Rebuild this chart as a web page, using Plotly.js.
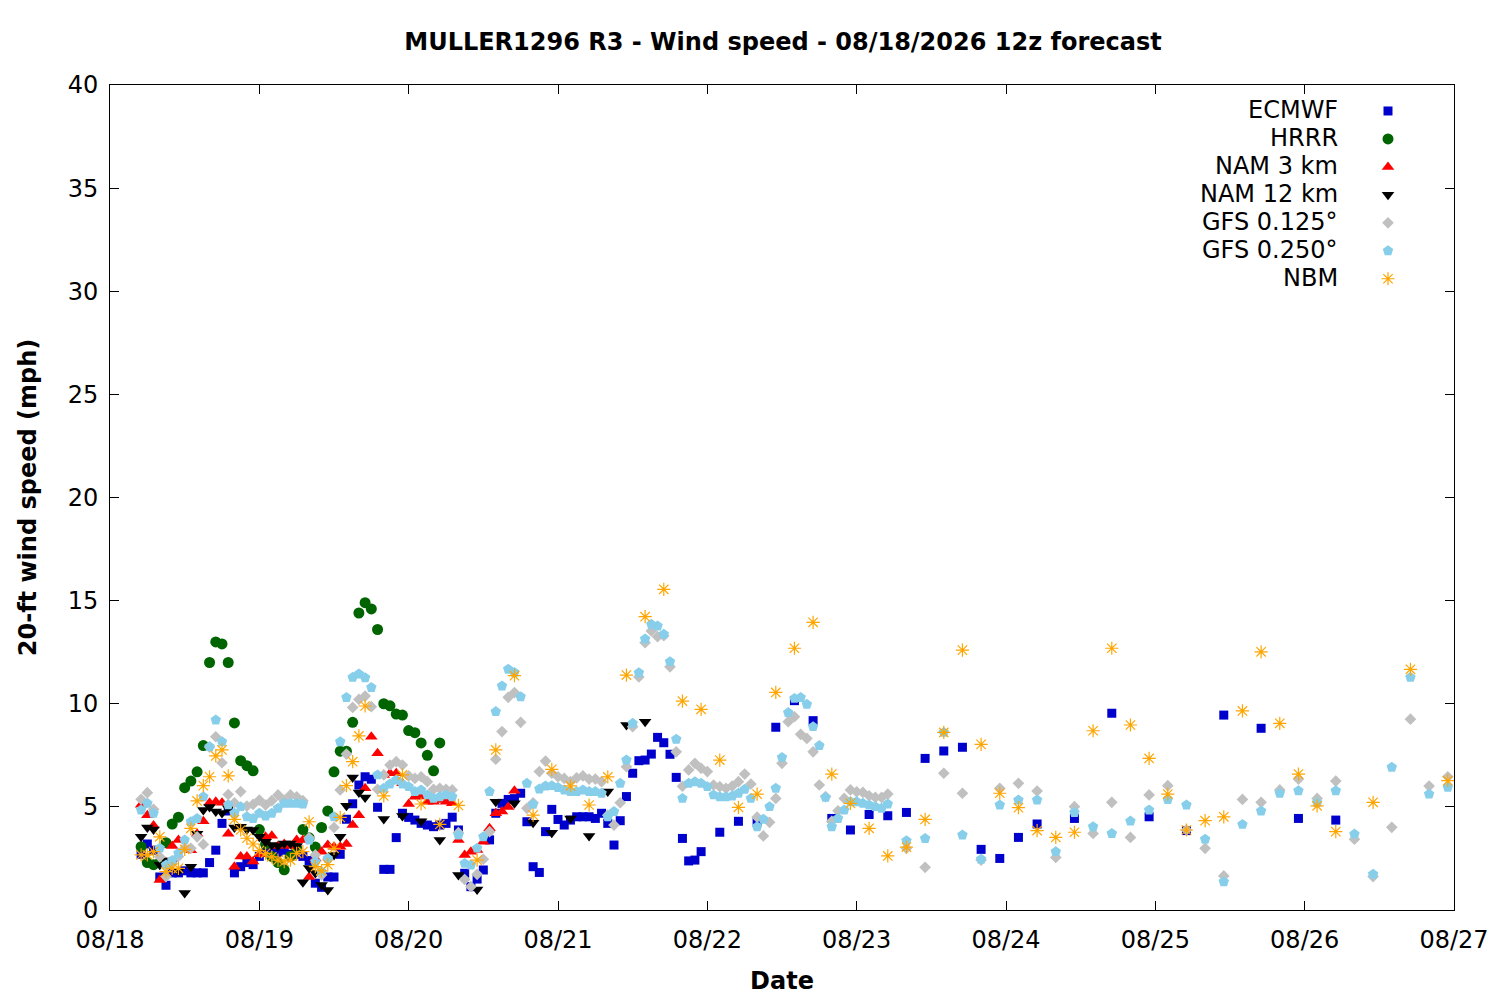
<!DOCTYPE html>
<html>
<head>
<meta charset="utf-8">
<script src="https://cdn.plot.ly/plotly-3.0.1.min.js"></script>
<style>
  body { margin: 0; background: #fff; }
  #plot-graph { width: 1500px; height: 1000px; }
</style>
</head>
<body>
<div id="plot-graph"></div>
<script>
"use strict";

// forecast hours counted from 08/18 00:00 local (run is 12z = 05 local)
var startDay = Date.UTC(2026, 7, 18);

var seriesNames = ["ECMWF", "HRRR", "NAM 3 km", "NAM 12 km", "GFS 0.125°", "GFS 0.250°", "NBM"];

// ECMWF: hourly, then 3-hourly, then 6-hourly
var ecmwfHourly = [
    2.7, 3.2, 2.9, 1.6, 1.2, 1.8, 1.8, 1.9, 1.8, 1.8,
    1.8, 2.3, 2.9, 4.2, 4.8, 1.8, 2.1, 2.3, 2.2, 2.6,
    2.9, 3.0, 2.8, 2.9, 2.7, 2.7, 2.6, 2.4, 1.3, 1.1,
    1.6, 1.6, 2.7, 4.4, 5.15, 6.06, 6.46, 6.34, 4.98, 1.97,
    1.97, 3.51, 4.69, 4.49, 4.36, 4.2, 4.12, 4.04, 4.12, 4.2,
    4.5, 3.88, 1.78, 1.13, 1.5, 1.94, 3.4, 4.69, 5.17, 5.36,
    5.4, 5.66, 4.28, 2.1, 1.82, 3.8, 4.88, 4.39, 4.12, 4.36,
    4.52, 4.52, 4.52, 4.44, 4.69, 4.2, 3.15, 4.33, 5.5, 6.63,
    7.24, 7.27, 7.56, 8.37, 8.11, 7.55, 6.43, 3.47, 2.38, 2.42,
    2.83
];
var ecmwf3h = [3.77, 4.3, 4.25, 8.86, 10.15, 9.18, 4.44, 3.88, 4.63, 4.57, 4.73, 7.35, 7.71, 7.89, 2.94, 2.5, 3.52, 4.17];
var ecmwf6h = [4.44, 9.54, 4.52, 3.85, 9.45, 8.81, 4.44, 4.36];

var hrrr = [
    3.07, 2.3, 2.2, 2.3, 3.26, 4.17, 4.5, 5.93, 6.25, 6.7,
    7.97, 12.0, 13.0, 12.9, 12.0, 9.07, 7.24, 7.0, 6.75,
    3.9, 3.2, 2.6, 2.3, 1.95, 2.6, 3.0, 3.9, 3.5, 3.05,
    4.0, 4.8, 6.7, 7.7, 7.7, 9.1, 14.4, 14.9, 14.6, 13.6,
    10.0, 9.9, 9.5, 9.45, 8.7, 8.6, 8.1, 7.5, 6.75, 8.1
];

var nam3 = [
    5.1, 4.6, 4.1, 1.45, 2.3, 3.1, 3.4, 3.0, 2.9, 3.7,
    4.3, 5.2, 5.25, 5.2, 3.7, 2.1, 2.6, 2.6, 2.35, 2.7,
    3.55, 3.6, 3.1, 3.2, 3.1, 3.4, 3.4, 1.6, 2.5, 2.83,
    3.15, 3.07, 3.07, 3.2, 4.12, 4.6, 5.9, 8.4, 7.6, 6.55,
    6.63, 6.63, 6.14, 5.14, 5.49, 5.5, 5.25, 5.25, 5.33, 5.25,
    5.18, 3.4, 2.67, 2.83, 2.91, 3.31, 3.96, 4.69, 4.77, 5.0,
    5.78
];

var nam12Hourly = [
    3.55, 4.0, 3.9, 2.2, 2.4, 2.3, 1.9, 0.82, 2.1, 3.7,
    4.85, 5.0, 4.77, 4.7, 4.93, 4.0, 4.04, 3.9, 3.88, 3.55,
    3.31, 3.15, 3.1, 3.23, 3.23, 3.1, 1.35, 2.04, 1.8, 1.21,
    0.97, 2.67, 3.55, 5.06, 6.43, 5.7, 5.46
];
var nam12_3h = [4.41, 4.56, 4.3, 3.4, 1.7, 1.0, 5.25, 5.17, 4.23, 3.75, 4.44, 3.59, 5.74, 8.97, 9.13];

var gfs125Hourly = [
    5.37, 5.69, 4.88, 2.58, 1.62, 2.26, 2.6, 3.0, 2.99, 3.55,
    3.18, 7.9, 8.4, 7.14, 5.6, 5.2, 5.74, 5.04, 5.12, 5.33,
    5.09, 5.3, 5.58, 5.33, 5.58, 5.49, 5.3, 3.5, 2.67, 1.7,
    2.46, 4.0, 5.82, 7.56, 9.82, 10.21, 10.37, 9.86, 5.85, 6.55,
    7.03, 7.19, 7.03, 6.5, 6.38, 6.46, 6.22, 5.85, 5.9, 5.85,
    5.82, 3.75, 1.48, 1.13, 1.73, 2.46, 3.8, 7.31, 8.65, 10.31,
    10.54, 9.1, 4.93, 5.2, 6.71, 7.22, 6.63, 6.46, 6.38, 6.22,
    6.41, 6.5, 6.35, 6.35, 6.22, 4.6, 4.12, 5.2, 6.95, 8.89,
    11.3, 12.96, 13.53, 13.25, 13.3, 11.79, 7.67, 6.0, 6.79, 7.11,
    6.87, 6.71, 6.06, 5.98, 5.9, 6.01, 6.22, 6.59, 6.11, 4.5,
    3.59, 4.25, 5.41, 7.11, 9.13, 9.37, 8.52, 8.32, 7.67, 6.06,
    5.5, 4.3, 4.81, 5.41, 5.82, 5.73, 5.7, 5.54, 5.46, 5.46,
    5.62
];
var gfs125_3h = [
    2.99, 2.07, 6.63, 5.66, 2.42, 5.9, 6.14, 5.77, 2.55, 5.01,
    3.71, 5.22, 3.52, 5.58, 6.03, 3.88, 2.99, 1.65, 5.36, 5.22,
    5.82, 6.35, 5.41, 6.25, 3.43, 1.62, 4.01, 9.25, 6.01, 6.46
];

var gfs250Hourly = [
    4.85, 5.17, 4.69, 3.0, 2.18, 2.4, 2.75, 3.4, 4.28, 4.44,
    5.49, 7.92, 9.21, 8.16, 5.1, 4.69, 5.01, 4.52, 4.44, 4.69,
    4.56, 4.69, 4.93, 5.17, 5.17, 5.17, 5.14, 3.39, 2.34, 1.86,
    2.5, 4.52, 8.16, 10.3, 11.28, 11.44, 11.26, 10.79, 6.55, 5.9,
    6.11, 6.3, 6.11, 5.98, 5.74, 5.82, 5.58, 5.41, 5.49, 5.58,
    5.49, 3.64, 2.26, 2.18, 3.0, 3.55, 5.74, 9.62, 10.86, 11.67,
    11.52, 10.34, 6.14, 5.12, 5.87, 6.01, 6.03, 5.94, 5.82, 5.74,
    5.74, 5.82, 5.74, 5.74, 5.66, 4.52, 4.77, 6.14, 7.27, 9.05,
    11.5, 13.14, 13.85, 13.77, 13.37, 12.04, 8.28, 5.41, 6.14, 6.22,
    6.14, 5.98, 5.58, 5.49, 5.49, 5.53, 5.66, 5.85, 5.41, 4.04,
    4.4, 5.01, 5.9, 7.4, 9.57, 10.26, 10.3, 9.97, 8.89, 7.97,
    5.46, 4.04, 4.44, 4.85, 5.25, 5.25, 5.17, 5.09, 5.01, 4.93,
    5.14
];
var gfs250_3h = [
    3.36, 3.47, 8.61, 3.64, 2.46, 5.09, 5.33, 5.33, 2.83, 4.73,
    4.04, 3.71, 4.31, 4.85, 5.36, 5.09, 3.43, 1.37, 4.15, 4.8,
    5.66, 5.78, 5.2, 5.78, 3.68, 1.73, 6.92, 11.28, 5.62, 5.95
];

var nbmHourly = [
    2.67, 2.67, 2.83, 3.55, 1.86, 2.02, 2.02, 2.94, 3.96, 5.29,
    6.03, 6.46, 7.47, 7.76, 6.5, 4.39, 3.88, 3.48, 3.2, 2.88,
    2.75, 2.58, 2.42, 2.34, 2.42, 2.75, 2.83, 4.28, 2.1, 1.9,
    2.2, 2.99, 4.49, 6.03, 7.19, 8.44, 9.89
];
var nbm3h = [
    5.53, 6.55, 5.14, 4.15, 5.07, 2.42, 7.76, 11.36, 4.6, 6.82,
    6.02, 5.09, 6.45, 11.39, 14.22, 15.55, 10.13, 9.73, 7.27, 4.98,
    5.62, 10.55, 12.69, 13.95, 6.59, 5.17, 3.96, 2.62, 3.05, 4.39,
    8.61, 12.6, 8.03, 5.66, 4.96, 3.85, 3.52, 3.77, 8.69, 12.69,
    8.97, 7.35, 5.62, 3.88, 4.33, 4.52, 9.65, 12.52, 9.05, 6.59,
    5.05, 3.8
];
var nbm6h = [5.22, 11.67, 6.27];

// model output schedules (forecast hour offsets)
function steps(from, to, step) {
    var out = [];
    for (var h = from; h <= to; h += step) out.push(h);
    return out;
}
function toDate(h) {
    return new Date(startDay + h * 3600000).toISOString().slice(0, 19).replace("T", " ");
}

var series = [
    { hours: steps(5, 95, 1).concat(steps(98, 149, 3), steps(155, 197, 6)),
      y: ecmwfHourly.concat(ecmwf3h, ecmwf6h), symbol: "square", size: 9, color: "#0000cc" },
    { hours: steps(5, 53, 1), y: hrrr, symbol: "circle", size: 11, color: "#006400" },
    { hours: steps(5, 65, 1), y: nam3, symbol: "triangle-up", size: 11, color: "#ff0000" },
    { hours: steps(5, 41, 1).concat(steps(44, 86, 3)),
      y: nam12Hourly.concat(nam12_3h), symbol: "triangle-down", size: 11, color: "#000000" },
    { hours: steps(5, 125, 1).concat(steps(128, 215, 3)),
      y: gfs125Hourly.concat(gfs125_3h), symbol: "diamond", size: 9, color: "#c0c0c0" },
    { hours: steps(5, 125, 1).concat(steps(128, 215, 3)),
      y: gfs250Hourly.concat(gfs250_3h), symbol: "pentagon", size: 11, color: "#87ceeb" },
    { hours: steps(5, 41, 1).concat(steps(44, 197, 3), steps(203, 215, 6)),
      y: nbmHourly.concat(nbm3h, nbm6h), symbol: "asterisk-open", size: 11, color: "#ffa500" }
];

var font = "DejaVu Sans, sans-serif";

var data = series.map(function (s, i) {
    var open = s.symbol.indexOf("open") >= 0;
    return {
        type: "scatter",
        mode: "markers",
        name: " ",
        x: s.hours.map(toDate),
        y: s.y,
        marker: {
            symbol: s.symbol,
            size: s.size,
            color: s.color,
            line: { width: open ? 1.2 : 0, color: s.color }
        },
        hoverinfo: "skip"
    };
});

// legend labels sit to the left of the symbols, right aligned
var legendRowsPx = [110, 138, 166, 194, 222, 250, 278];
var annotations = seriesNames.map(function (name, i) {
    return {
        xref: "paper", yref: "paper",
        x: (1340 - 110) / 1344, y: (910 - legendRowsPx[i]) / 825,
        xanchor: "right", yanchor: "middle",
        text: name, showarrow: false,
        font: { family: font, size: 24, color: "#000" }
    };
});

var layout = {
    width: 1500,
    height: 1000,
    margin: { l: 110, r: 46, t: 85, b: 90 },
    paper_bgcolor: "#fff",
    plot_bgcolor: "#fff",
    showlegend: true,
    legend: {
        x: (1392 - 134) / 1344, xanchor: "left",
        y: (910 - 92) / 825, yanchor: "top",
        bgcolor: "rgba(0,0,0,0)",
        font: { family: font, size: 19.2 },
        itemwidth: 30
    },
    annotations: annotations,
    title: {
        text: "<b>MULLER1296 R3 - Wind speed - 08/18/2026 12z forecast</b>",
        font: { family: font, size: 24, color: "#000" },
        x: 0.522, xanchor: "center",
        y: 0.958, yanchor: "middle"
    },
    xaxis: {
        type: "date",
        range: ["2026-08-18 00:00", "2026-08-27 00:00"],
        dtick: 86400000,
        tick0: "2026-08-18",
        tickformat: "%m/%d",
        showgrid: false,
        zeroline: false,
        showline: true, linecolor: "#000", linewidth: 1,
        mirror: "ticks",
        ticks: "inside", ticklen: 9, tickcolor: "#000",
        ticklabelstandoff: 8,
        tickfont: { family: font, size: 24, color: "#000" },
        title: { text: "<b>Date</b>", font: { family: font, size: 24, color: "#000" }, standoff: 19 }
    },
    yaxis: {
        range: [0, 40],
        dtick: 5,
        showgrid: false,
        zeroline: false,
        showline: true, linecolor: "#000", linewidth: 1,
        mirror: "ticks",
        ticks: "inside", ticklen: 9, tickcolor: "#000",
        ticklabelstandoff: 6,
        tickfont: { family: font, size: 24, color: "#000" },
        title: { text: "<b>20-ft wind speed (mph)</b>", font: { family: font, size: 24, color: "#000" }, standoff: 24 }
    }
};

Plotly.newPlot("plot-graph", data, layout, { staticPlot: true });
</script>
</body>
</html>
